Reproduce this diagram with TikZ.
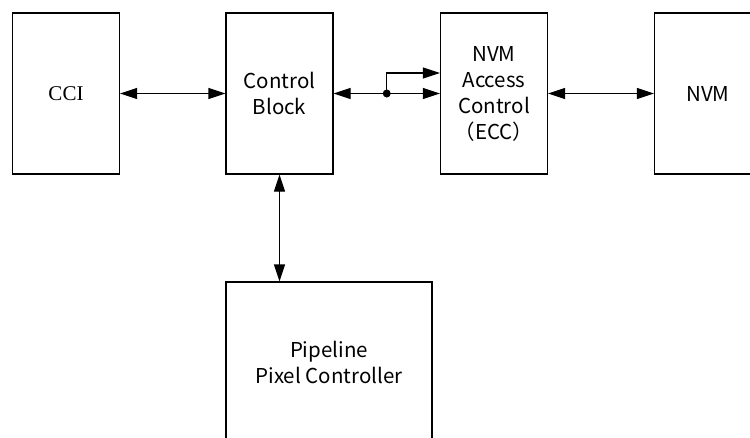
\documentclass[tikz,border=0pt]{standalone}
\usepackage{fontspec}
\newfontfamily\jpfont{Noto Sans CJK JP}
\newfontfamily\ccifont{Liberation Serif}
\usetikzlibrary{arrows.meta,calc}

\begin{document}
\begin{tikzpicture}[x=1pt, y=-1pt,
    block/.style={draw, line width=1.1pt, minimum width=107pt, minimum height=161pt,
        inner sep=0pt, align=center, font=\jpfont\fontsize{20.5}{26}\selectfont},
    link/.style={line width=1.1pt, {Triangle[length=17pt,width=11pt]}-{Triangle[length=17pt,width=11pt]}},
    branch/.style={line width=1.1pt, -{Triangle[length=17pt,width=11pt]}}]
    \useasboundingbox (0,0) rectangle (750,437);
    \clip (0,0) rectangle (750,437);
    % Top row of blocks
    \node[block, font=\ccifont\fontsize{21}{26}\selectfont] (cci) at (66,93.5) {CCI};
    \node[block] (ctrl) at (279.5,93.5) {Control\\Block};
    \node[block] (acc) at (494,93.5) {NVM\\Access\\Control\\（ECC）};
    \node[block] (nvm) at (708,93.5) {NVM};
    % Lower block
    \node[block, minimum width=206pt] (pipe) at (329,362.5) {Pipeline\\Pixel Controller};
    % Links
    \draw[link] (cci.east) -- (ctrl.west);
    \draw[link] (ctrl.east) -- (acc.west);
    \draw[link] (acc.east) -- (nvm.west);
    \draw[link] (ctrl.south) -- (ctrl.south |- pipe.north);
    % Branch to NVM access
    \coordinate (junc) at ($(ctrl.east)!0.5!(acc.west)$);
    \fill (junc) circle (4pt);
    \draw[branch] (junc) |- ([yshift=20.5pt]acc.west);
\end{tikzpicture}
\end{document}
